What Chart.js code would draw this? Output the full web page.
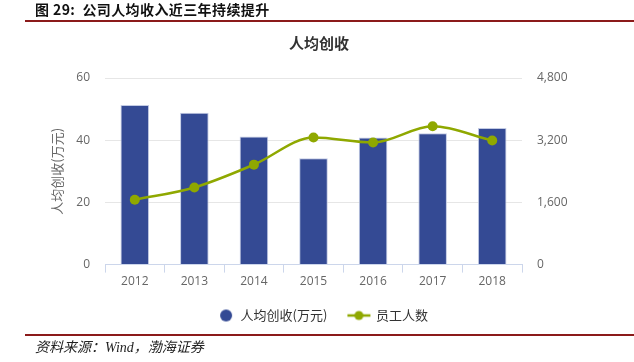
<!DOCTYPE html>
<html>
<head>
<meta charset="utf-8">
<script src="https://cdn.jsdelivr.net/npm/chart.js@4/dist/chart.umd.min.js"></script>
<style>
  html,body{margin:0;padding:0;background:#fff;}
  #wrap{position:relative;width:634px;height:362px;overflow:hidden;}
  #c{position:absolute;left:0;top:0;}
  #hdr{position:absolute;left:35px;top:0px;font:bold 14px "Noto Sans CJK SC",sans-serif;color:#111;line-height:18px;letter-spacing:0.4px;}
  #hline{position:absolute;left:25px;right:0;top:20px;height:2px;background:#8b1a1a;}
  #fline{position:absolute;left:25px;right:0;top:334px;height:2px;background:#8b1a1a;}
  #ftr{position:absolute;left:35px;top:337px;font:italic 14px "Noto Sans CJK SC",serif;color:#222;line-height:18px;}
</style>
</head>
<body>
<div id="wrap">
  <canvas id="c" width="634" height="362"></canvas>
  <div id="hdr">图 29:&nbsp; 公司人均收入近三年持续提升</div>
  <div id="hline"></div>
  <div id="fline"></div>
  <div id="ftr">资料来源：<span style="font-family:'Liberation Serif',serif">Wind</span>，渤海证券</div>
</div>
<script>
const categories = ['2012','2013','2014','2015','2016','2017','2018'];
const revenuePerCapita = [51.3, 48.8, 41.2, 34.2, 40.9, 42.2, 43.9];
const employees = [1667, 1984, 2571, 3268, 3140, 3557, 3191];
const leftTicks = [0, 20, 40, 60];
const rightTicks = [0, 1600, 3200, 4800];

const barColor = '#344a94';
const lineColor = '#8fa800';

function makeCircleIcon(){
  const cv = document.createElement('canvas');
  cv.width = 24; cv.height = 14;
  const g = cv.getContext('2d');
  g.fillStyle = barColor;
  g.beginPath(); g.arc(16,7,6,0,Math.PI*2); g.fill();
  return cv;
}
function makeLineIcon(){
  const cv = document.createElement('canvas');
  cv.width = 28; cv.height = 12;
  const g = cv.getContext('2d');
  g.strokeStyle = lineColor; g.lineWidth = 2.5;
  g.beginPath(); g.moveTo(4,6); g.lineTo(27,6); g.stroke();
  g.fillStyle = lineColor;
  g.beginPath(); g.arc(15.5,6,4.5,0,Math.PI*2); g.fill();
  return cv;
}
const circleIcon = makeCircleIcon();
const lineIcon = makeLineIcon();

new Chart(document.getElementById('c'), {
  data: {
    labels: categories,
    datasets: [
      {
        type: 'line',
        label: '员工人数',
        data: employees,
        yAxisID: 'y1',
        borderColor: lineColor,
        backgroundColor: lineColor,
        borderWidth: 2.5,
        pointRadius: 5,
        pointBackgroundColor: lineColor,
        pointBorderWidth: 0,
        cubicInterpolationMode: 'monotone',
        tension: 0.4,
        order: 0
      },
      {
        type: 'bar',
        label: '人均创收(万元)',
        data: revenuePerCapita,
        yAxisID: 'y',
        backgroundColor: barColor,
        borderColor: '#c3cbe4',
        borderWidth: 1,
        categoryPercentage: 1,
        barPercentage: 0.48,
        order: 1
      }
    ]
  },
  options: {
    responsive: false,
    animation: false,
    layout: { padding: { top: 29, bottom: 30, left: 4, right: 0 } },
    plugins: {
      title: {
        display: true,
        text: '人均创收',
        color: '#333',
        font: { family: '"Noto Sans CJK SC", sans-serif', size: 15, weight: 'bold' },
        padding: { top: 5, bottom: 26 }
      },
      legend: {
        position: 'bottom',
        reverse: true,
        labels: {
          usePointStyle: true,
          pointStyleWidth: 24,
          color: '#333',
          font: { family: '"Noto Sans CJK SC", sans-serif', size: 13 },
          padding: 18,
          generateLabels(chart){
            return chart.data.datasets.map((ds, i) => ({
              text: ds.label,
              pointStyle: ds.type === 'bar' ? circleIcon : lineIcon,
              datasetIndex: i,
              hidden: false,
              fontColor: '#333',
              lineWidth: 0
            }));
          }
        }
      },
      tooltip: { enabled: false }
    },
    scales: {
      x: {
        offset: true,
        grid: { offset: true, drawOnChartArea: false, drawTicks: true, tickLength: 8, color: '#ccd6eb' },
        border: { display: true, color: '#ccd6eb' },
        ticks: { color: '#666', padding: 2, font: { family: '"Open Sans", sans-serif', size: 12 } }
      },
      y: {
        position: 'left',
        min: 0, max: 60,
        afterBuildTicks(axis){ axis.ticks = leftTicks.map(v => ({ value: v })); },
        afterFit(axis){ axis.width = 101; },
        grid: { color: '#e6e6e6', drawTicks: false, lineWidth: 1 },
        border: { display: false },
        ticks: { color: '#666', padding: 15, font: { family: '"Open Sans", sans-serif', size: 12 } },
        title: {
          display: true,
          text: '人均创收(万元)',
          color: '#666',
          font: { family: '"Noto Sans CJK SC", sans-serif', size: 13 },
          padding: { top: 45, bottom: 0 }
        }
      },
      y1: {
        position: 'right',
        min: 0, max: 4800,
        afterBuildTicks(axis){ axis.ticks = rightTicks.map(v => ({ value: v })); },
        afterFit(axis){ axis.width = 112; },
        grid: { drawOnChartArea: false, drawTicks: false },
        border: { display: false },
        ticks: {
          color: '#666', padding: 15,
          font: { family: '"Open Sans", sans-serif', size: 12 },
          callback: v => v.toLocaleString('en-US')
        }
      }
    }
  }
});
</script>
</body>
</html>
